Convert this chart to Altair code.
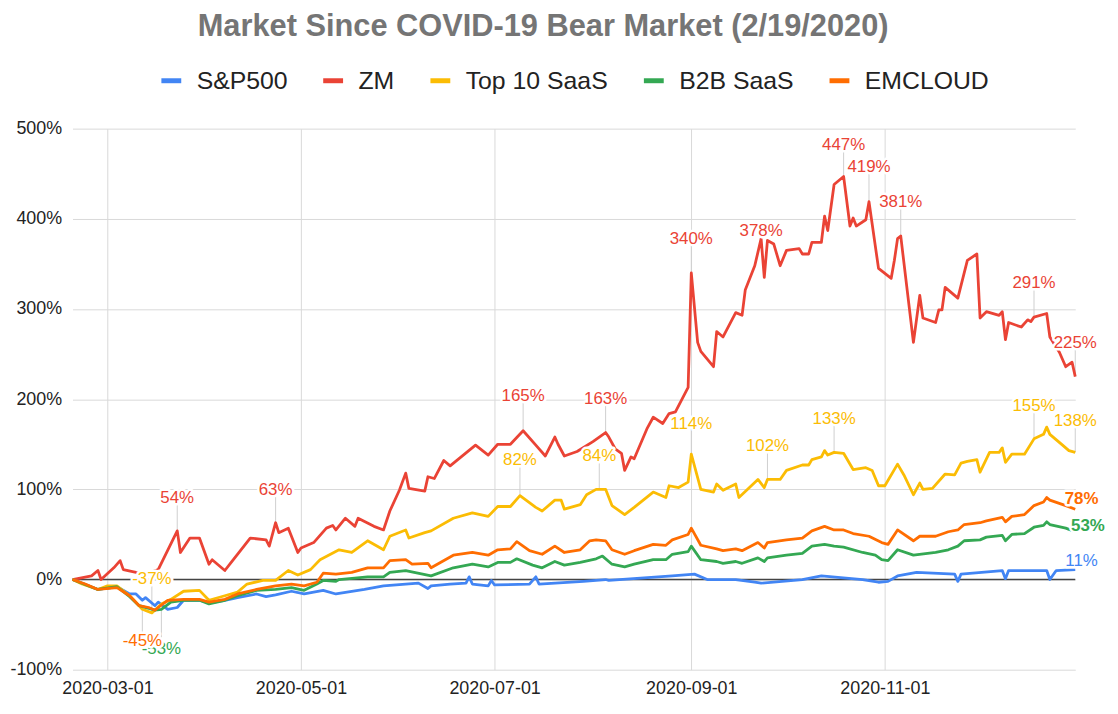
import altair as alt
import pandas as pd

FONT = "Liberation Sans"
TITLE = "Market Since COVID-19 Bear Market (2/19/2020)"
SERIES = ["S&P500", "ZM", "Top 10 SaaS", "B2B SaaS", "EMCLOUD"]
COLORS = ["#4285F4", "#EA4335", "#FBBC04", "#34A853", "#FF6D01"]
Y_TICKS = [-100, 0, 100, 200, 300, 400, 500]
X_TICKS = ["2020-03-01", "2020-05-01", "2020-07-01", "2020-09-01", "2020-11-01"]

# ---- series (dates as MM-DD in 2020, values in % change since 2/19/2020) ----
sp_dates = ["02-19", "02-27", "03-04", "03-08", "03-10", "03-12", "03-13", "03-16", "03-17", "03-20",
            "03-23", "03-25", "03-30", "04-02", "04-07", "04-11", "04-17", "04-20", "04-23", "04-28",
            "05-02", "05-08", "05-12", "05-21", "05-27", "06-07", "06-10", "06-11", "06-17", "06-22",
            "06-23", "06-24", "06-29", "06-30", "07-01", "07-12", "07-14", "07-15", "07-29", "08-05",
            "08-06", "08-26", "09-02", "09-06", "09-15", "09-21", "09-23", "10-06", "10-12", "10-25",
            "10-30", "11-02", "11-05", "11-11", "11-23", "11-24", "11-25", "12-08", "12-09", "12-10",
            "12-22", "12-23", "12-25", "12-31"]
sp_vals = [0, -11, -8, -16, -16, -23, -20, -29, -25, -33,
           -31, -23, -23, -26, -23, -20, -16, -19, -17, -13,
           -16, -12, -16, -11, -7, -4, -10, -7, -5, -4,
           3, -5, -7, -1, -6, -5, 3, -5, -2, 0,
           -1, 4, 6, 0, 0, -3, -4, 0, 4, 0,
           -3, -2, 4, 8, 6, -2, 6, 10, 1, 10,
           10, 0, 10, 11]

zm_dates = ["02-19", "02-25", "02-27", "02-28", "03-03", "03-05", "03-06", "03-10", "03-13", "03-17",
            "03-23", "03-24", "03-27", "03-30", "04-02", "04-03", "04-07", "04-09", "04-15", "04-20",
            "04-21", "04-23", "04-24", "04-27", "04-30", "05-01", "05-05", "05-07", "05-09", "05-11",
            "05-12", "05-15", "05-18", "05-19", "05-24", "05-27", "05-29", "06-01", "06-03", "06-04",
            "06-09", "06-10", "06-12", "06-15", "06-17", "06-25", "06-29", "07-02", "07-06", "07-10",
            "07-14", "07-17", "07-20", "07-21", "07-23", "07-27", "08-01", "08-05", "08-06", "08-08",
            "08-10", "08-11", "08-13", "08-14", "08-18", "08-20", "08-23", "08-25", "08-27", "08-31",
            "09-01", "09-03", "09-04", "09-08", "09-09", "09-11", "09-15", "09-17", "09-18", "09-21",
            "09-23", "09-24", "09-25", "09-27", "09-29", "10-01", "10-05", "10-06", "10-08", "10-09",
            "10-12", "10-13", "10-14", "10-16", "10-19", "10-21", "10-22", "10-23", "10-26", "10-27",
            "10-30", "11-03", "11-04", "11-05", "11-06", "11-10", "11-12", "11-13", "11-17", "11-18",
            "11-19", "11-20", "11-24", "11-27", "11-30", "12-01", "12-03", "12-07", "12-08", "12-09",
            "12-10", "12-14", "12-16", "12-17", "12-18", "12-22", "12-23", "12-26", "12-28", "12-30",
            "12-31"]
zm_vals = [0, 4, 10, 0, 13, 21, 11, 8, 6, 11,
           54, 30, 46, 46, 17, 22, 10, 19, 46, 44,
           37, 63, 52, 57, 30, 35, 41, 49, 57, 60,
           55, 68, 59, 68, 59, 55, 76, 99, 118, 101,
           98, 114, 112, 132, 126, 149, 138, 150, 150, 165,
           149, 137, 158, 150, 137, 142, 153, 163, 158, 145,
           140, 121, 136, 134, 167, 180, 173, 184, 186, 213,
           340, 263, 253, 236, 275, 269, 296, 293, 321, 348,
           378, 335, 376, 372, 348, 365, 367, 361, 361, 374,
           374, 403, 387, 438, 447, 392, 401, 392, 399, 419,
           345, 334, 354, 378, 381, 263, 315, 290, 285, 299,
           299, 324, 312, 354, 361, 290, 297, 293, 297, 266,
           285, 280, 288, 286, 291, 295, 269, 252, 236, 241,
           225]

top10_dates = ["02-19", "02-22", "02-27", "03-01", "03-04", "03-08", "03-12", "03-15", "03-18", "03-21",
               "03-25", "03-30", "04-02", "04-07", "04-11", "04-14", "04-19", "04-23", "04-27", "04-30",
               "05-04", "05-07", "05-13", "05-17", "05-22", "05-27", "05-29", "06-03", "06-04", "06-09",
               "06-11", "06-18", "06-24", "06-29", "07-02", "07-06", "07-09", "07-14", "07-16", "07-20",
               "07-22", "07-23", "07-28", "07-30", "08-02", "08-05", "08-07", "08-11", "08-14", "08-20",
               "08-24", "08-25", "08-28", "08-31", "09-01", "09-04", "09-08", "09-09", "09-11", "09-15",
               "09-16", "09-22", "09-24", "09-25", "09-29", "10-01", "10-06", "10-08", "10-09", "10-12",
               "10-13", "10-14", "10-16", "10-19", "10-22", "10-26", "10-28", "10-30", "11-01", "11-05",
               "11-07", "11-10", "11-12", "11-13", "11-16", "11-20", "11-23", "11-25", "11-27", "11-30",
               "12-01", "12-04", "12-07", "12-08", "12-09", "12-11", "12-15", "12-18", "12-21", "12-22",
               "12-23", "12-27", "12-29", "12-31"]
top10_vals = [0, -5, -11, -7, -7, -18, -33, -37, -27, -22,
              -13, -12, -23, -18, -14, -5, -1, -1, 10, 5,
              11, 22, 33, 30, 43, 33, 48, 55, 46, 52,
              54, 68, 74, 70, 81, 81, 93, 80, 76, 88,
              88, 78, 83, 94, 100, 100, 82, 72, 80, 97,
              91, 104, 102, 108, 139, 100, 97, 106, 99, 106,
              91, 111, 102, 111, 111, 121, 127, 127, 133, 136,
              143, 138, 141, 140, 122, 124, 121, 104, 104, 128,
              116, 94, 107, 100, 101, 117, 116, 129, 131, 133,
              119, 141, 141, 146, 130, 139, 139, 156, 161, 169,
              161, 149, 143, 141]

b2b_dates = ["02-19", "02-27", "03-04", "03-08", "03-11", "03-16", "03-18", "03-21", "03-25", "03-30",
             "04-02", "04-07", "04-11", "04-17", "04-23", "04-28", "05-02", "05-06", "05-08", "05-12",
             "05-13", "05-22", "05-27", "05-29", "06-03", "06-11", "06-18", "06-24", "06-29", "07-02",
             "07-06", "07-08", "07-13", "07-16", "07-20", "07-23", "07-28", "08-02", "08-04", "08-07",
             "08-11", "08-14", "08-20", "08-24", "08-26", "08-31", "09-01", "09-04", "09-09", "09-11",
             "09-15", "09-17", "09-22", "09-24", "09-25", "10-01", "10-06", "10-09", "10-13", "10-16",
             "10-19", "10-25", "10-29", "10-31", "11-02", "11-05", "11-10", "11-17", "11-21", "11-24",
             "11-26", "12-01", "12-03", "12-08", "12-09", "12-11", "12-15", "12-18", "12-21", "12-22",
             "12-23", "12-28", "12-31"]
b2b_vals = [0, -11, -8, -19, -29, -34, -33, -25, -23, -23,
            -27, -23, -18, -12, -11, -9, -12, -5, -1, -2,
            0, 3, 3, 8, 10, 4, 13, 17, 14, 19,
            19, 23, 16, 13, 20, 16, 19, 23, 26, 17,
            14, 17, 22, 22, 28, 31, 37, 22, 20, 18,
            20, 18, 24, 20, 24, 27, 29, 37, 39, 37,
            36, 30, 27, 22, 21, 33, 27, 30, 33, 37,
            43, 44, 47, 49, 43, 50, 51, 58, 60, 64,
            61, 57, 53]

emc_dates = ["02-19", "02-23", "02-27", "03-04", "03-08", "03-11", "03-14", "03-16", "03-17", "03-20",
             "03-25", "03-30", "04-02", "04-07", "04-11", "04-17", "04-23", "04-28", "05-02", "05-06",
             "05-08", "05-12", "05-17", "05-22", "05-27", "05-29", "06-03", "06-05", "06-10", "06-11",
             "06-18", "06-24", "06-29", "07-02", "07-06", "07-08", "07-12", "07-16", "07-20", "07-23",
             "07-28", "07-31", "08-02", "08-05", "08-07", "08-11", "08-14", "08-20", "08-24", "08-26",
             "08-31", "09-01", "09-04", "09-09", "09-11", "09-15", "09-17", "09-22", "09-24", "09-25",
             "10-01", "10-06", "10-09", "10-13", "10-16", "10-19", "10-22", "10-27", "10-31", "11-02",
             "11-05", "11-10", "11-12", "11-17", "11-21", "11-24", "11-26", "12-01", "12-03", "12-08",
             "12-09", "12-11", "12-15", "12-18", "12-21", "12-22", "12-23", "12-28", "12-31"]
emc_vals = [0, -5, -11, -9, -18, -29, -31, -34, -31, -23,
            -22, -22, -25, -22, -16, -11, -7, -5, -7, -3,
            7, 6, 8, 13, 13, 21, 22, 17, 18, 13,
            27, 30, 27, 33, 34, 42, 32, 28, 37, 30,
            33, 43, 44, 43, 33, 28, 32, 39, 38, 44,
            50, 57, 38, 34, 32, 34, 32, 41, 35, 41,
            44, 46, 54, 59, 55, 55, 51, 48, 41, 39,
            55, 43, 48, 48, 53, 55, 61, 63, 65, 69,
            64, 70, 72, 82, 86, 91, 88, 82, 78]

# ---- data labels: series, date of point, value at point, label centre value, text ----
peak_series = ["ZM", "ZM", "ZM", "ZM", "ZM", "ZM", "ZM", "ZM", "ZM", "ZM", "ZM",
               "Top 10 SaaS", "Top 10 SaaS", "Top 10 SaaS", "Top 10 SaaS", "Top 10 SaaS",
               "Top 10 SaaS", "Top 10 SaaS", "Top 10 SaaS",
               "B2B SaaS", "EMCLOUD"]
peak_dates = ["03-23", "04-23", "07-10", "08-05", "09-01", "09-23", "10-19", "10-27", "11-06", "12-18", "12-31",
              "03-15", "07-09", "08-03", "09-01", "09-25", "10-16", "12-18", "12-31",
              "03-18", "03-12"]
peak_points = [54, 63, 165, 163, 340, 378, 447, 419, 381, 291, 225,
               -37, 93, 100, 139, 111, 141, 156, 141,
               -33, -30]
peak_label_vals = [90, 99, 203, 200, 378, 386, 482, 457, 419, 329, 262,
                   1, 132, 137, 172, 148, 178, 192, 176,
                   -77, -68]
peak_texts = ["54%", "63%", "165%", "163%", "340%", "378%", "447%", "419%", "381%", "291%", "225%",
              "-37%", "82%", "84%", "114%", "102%", "133%", "155%", "138%",
              "-53%", "-45%"]

end_series = ["EMCLOUD", "B2B SaaS", "S&P500"]
end_dates = ["2021-01-02", "2021-01-04", "2021-01-02"]
end_label_vals = [89, 59, 21]
end_texts = ["78%", "53%", "11%"]


def frame(name, mds, vals):
    assert len(mds) == len(vals), name
    return pd.DataFrame({"date": ["2020-" + m for m in mds], "value": vals, "series": name})


df = pd.concat([
    frame("S&P500", sp_dates, sp_vals),
    frame("ZM", zm_dates, zm_vals),
    frame("Top 10 SaaS", top10_dates, top10_vals),
    frame("B2B SaaS", b2b_dates, b2b_vals),
    frame("EMCLOUD", emc_dates, emc_vals),
], ignore_index=True)

color_of = dict(zip(SERIES, COLORS))
peaks = pd.DataFrame({
    "series": peak_series,
    "date": ["2020-" + d for d in peak_dates],
    "point": peak_points,
    "label_y": peak_label_vals,
    "text": peak_texts,
})
ends = pd.DataFrame({
    "series": end_series,
    "date": end_dates,
    "label_y": end_label_vals,
    "text": end_texts,
})
labels = pd.concat([peaks[["series", "date", "label_y", "text"]], ends], ignore_index=True)
labels["tcolor"] = labels["series"].map(color_of)


def utc(s):
    y, m, d = (int(p) for p in s.split("-"))
    return alt.DateTime(year=y, month=m, date=d, utc=True)


x_scale = alt.Scale(type="utc", domain=[utc("2020-02-19"), utc("2020-12-31")], nice=False)
y_scale = alt.Scale(domain=[-100, 500], nice=False, zero=False)

x_axis = alt.Axis(values=[utc(s) for s in X_TICKS], format="%Y-%m-%d", labelFont=FONT,
                  labelFontSize=18, labelColor="#222222", labelPadding=10, ticks=False,
                  domain=False, grid=True, gridColor="#d9d9d9", gridWidth=1,
                  labelOverlap=False, labelFlush=False, title=None)
y_axis = alt.Axis(values=Y_TICKS, labelExpr="datum.value + '%'", labelFont=FONT,
                  labelFontSize=18, labelColor="#222222", labelPadding=11, ticks=False,
                  domain=False, grid=True, gridColor="#d9d9d9", gridWidth=1, title=None)


def X():
    return alt.X("date:T", scale=x_scale, axis=x_axis, title=None)


def Y(field):
    return alt.Y(field, scale=y_scale, axis=y_axis, title=None)


zero = alt.Chart(pd.DataFrame({"date": ["2020-06-01"], "v": [0]})).mark_rule(
    color="#444444", strokeWidth=1.5).encode(y=Y("v:Q"))

leaders = alt.Chart(peaks).mark_rule(color="#cfcfcf", strokeWidth=1).encode(
    x=X(), y=Y("point:Q"), y2="label_y:Q",
)

lines = alt.Chart(df).mark_line(strokeWidth=2.8, strokeJoin="round").encode(
    x=X(),
    y=Y("value:Q"),
    color=alt.Color(
        "series:N",
        scale=alt.Scale(domain=SERIES, range=COLORS),
        sort=SERIES,
        legend=alt.Legend(
            orient="none", legendX=87, legendY=-61, direction="horizontal", columns=5,
            title=None, symbolType="stroke", symbolSize=400, symbolStrokeWidth=5,
            labelFont=FONT, labelFontSize=25, labelColor="#222222", labelOffset=13,
            columnPadding=25, padding=0, labelLimit=400,
        ),
    ),
)


def text_layers(filter_expr, weight="normal"):
    base = alt.Chart(labels).transform_filter(filter_expr).encode(
        x=X(), y=Y("label_y:Q"), text="text:N",
    )
    halo = base.mark_text(font=FONT, fontSize=17, fontWeight=weight, color="white", stroke="white",
                          strokeWidth=5, strokeJoin="round", baseline="middle", align="center")
    txt = base.mark_text(font=FONT, fontSize=17, fontWeight=weight, baseline="middle",
                         align="center").encode(color=alt.Color("tcolor:N", scale=None))
    return [halo, txt]


lab_a = text_layers("datum.text != '-45%' && datum.text != '78%' && datum.text != '53%'")
lab_bold = text_layers("datum.text == '78%' || datum.text == '53%'", weight="bold")
lab_b = text_layers("datum.text == '-45%'")

chart = alt.layer(zero, leaders, lines, *lab_a, *lab_bold, *lab_b).properties(
    width=1010,
    height=545,
    padding={"left": 65, "top": 119, "right": 35, "bottom": 30},
    autosize=alt.AutoSizeParams(type="none"),
    title=alt.TitleParams(TITLE, font=FONT, fontSize=31, fontWeight="bold", color="#757575",
                          anchor="middle", dx=-31, offset=25),
).configure_view(stroke=None)

chart.save("out.html", embed_options={"renderer": "svg", "actions": False})
